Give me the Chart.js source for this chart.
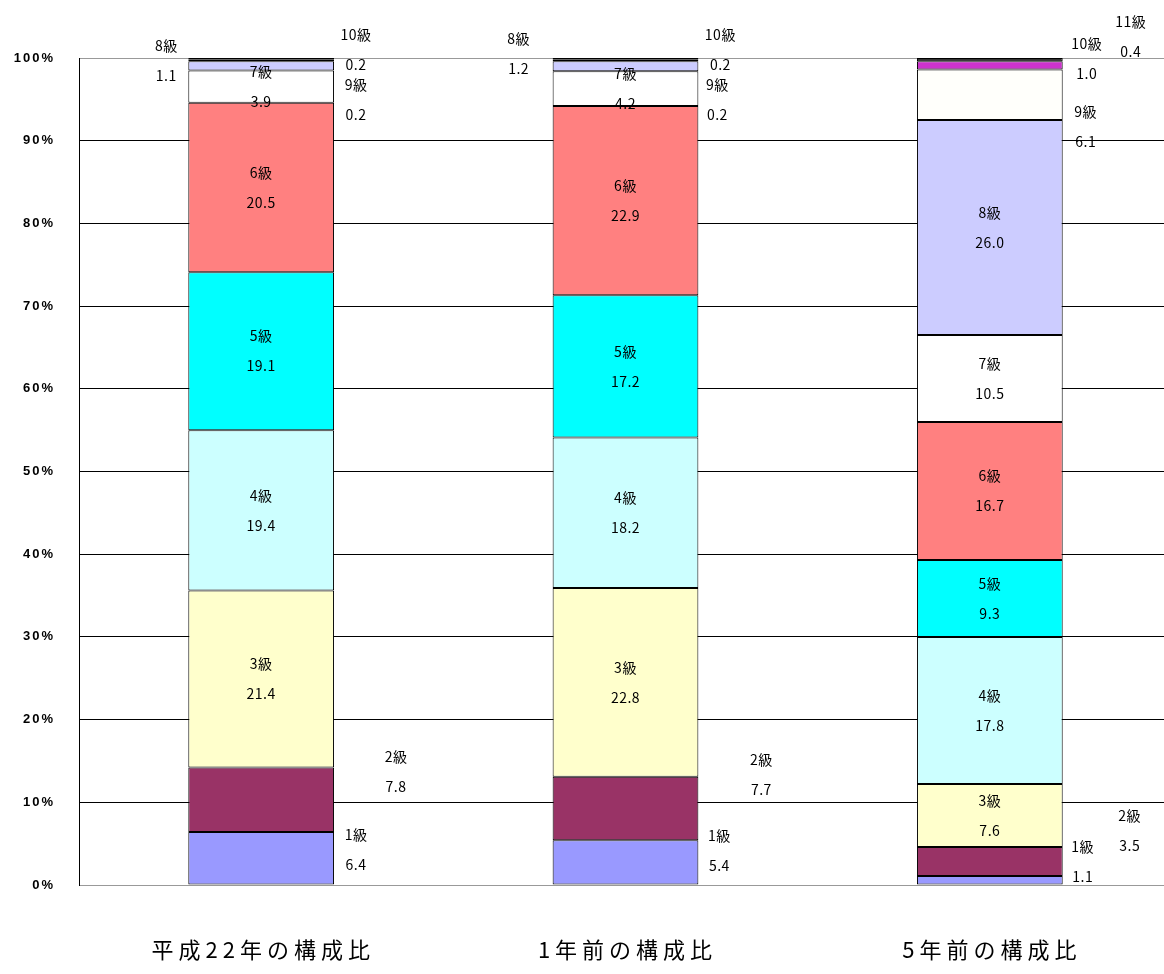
<!DOCTYPE html>
<html lang="ja">
<head>
  <meta charset="UTF-8">
  <title>等級別構成比</title>
  <script src="https://cdn.jsdelivr.net/npm/chart.js"></script>
  <style>
    html, body { margin: 0; padding: 0; background: #fff; overflow: hidden; }
    .wrap { width: 1172px; height: 974px; position: relative; }
  </style>
</head>
<body>
  <div class="wrap">
    <canvas id="kouseiChart"></canvas>
  </div>

  <script>
    var categories = ["平成22年の構成比", "1年前の構成比", "5年前の構成比"];
    var grades = ["1級", "2級", "3級", "4級", "5級", "6級", "7級", "8級", "9級", "10級", "11級"];

    // 各年の構成比（%）
    var h22 = [6.4, 7.8, 21.4, 19.4, 19.1, 20.5, 3.9, 1.1, 0.2, 0.2, null];
    var oneYearAgo = [5.4, 7.7, 22.8, 18.2, 17.2, 22.9, 4.2, 1.2, 0.2, 0.2, null];
    var fiveYearsAgo = [1.1, 3.5, 7.6, 17.8, 9.3, 16.7, 10.5, 26.0, 6.1, 1.0, 0.4];

    var colors = ["#9999FF", "#993366", "#FFFFCC", "#CCFFFF", "#00FFFF", "#FF8080",
                  "#FFFFFF", "#CCCCFF", "#FFFFFB", "#CC33CC", "#333333"];

    // 棒の外に出すラベル: [系列, 棒, 左右, 棒の端からのx, 区間中央からのy]
    var outsideLabels = [
      [0, 0, "right", 22, -9], [1, 0, "right", 62, -28], [7, 0, "left", -22, -5],
      [8, 0, "right", 22, 39], [9, 0, "right", 22, -9],
      [0, 1, "right", 21, -12], [1, 1, "right", 63, -34], [7, 1, "left", -34, -13],
      [8, 1, "right", 19, 39], [9, 1, "right", 22, -9],
      [0, 2, "right", 20, -19], [1, 2, "right", 67, -31], [8, 2, "right", 23, 32],
      [9, 2, "right", 24, -7], [10, 2, "right", 68, -23]
    ];

    function findOutside(ds, idx) {
      for (var k = 0; k < outsideLabels.length; k++) {
        if (outsideLabels[k][0] === ds && outsideLabels[k][1] === idx) return outsideLabels[k];
      }
      return null;
    }

    var labelPlugin = {
      id: "segmentLabels",
      beforeDraw: function (chart) {
        chart.ctx.letterSpacing = "2px";
      },
      afterDatasetsDraw: function (chart) {
        var ctx = chart.ctx;
        ctx.save();
        ctx.letterSpacing = "0.5px";
        ctx.font = "14px 'Noto Sans CJK JP'";
        ctx.fillStyle = "#000";
        ctx.textAlign = "center";
        ctx.textBaseline = "middle";
        chart.data.datasets.forEach(function (dataset, i) {
          var meta = chart.getDatasetMeta(i);
          meta.data.forEach(function (bar, j) {
            var v = dataset.data[j];
            if (v === null || v === undefined) return;
            var half = bar.width / 2;
            var x = bar.x;
            var y = (bar.y + bar.base) / 2;
            var out = findOutside(i, j);
            if (out) {
              x = out[2] === "right" ? bar.x + half + out[3] : bar.x - half + out[3];
              y = y + out[4];
            }
            ctx.fillText(dataset.label, x, y - 15);
            ctx.fillText(v.toFixed(1), x, y + 15);
          });
        });
        ctx.restore();
      },
      afterDraw: function (chart) {
        var ctx = chart.ctx;
        var xs = chart.scales.x;
        ctx.save();
        ctx.letterSpacing = "5px";
        ctx.font = "22px 'Noto Sans CJK JP'";
        ctx.fillStyle = "#000";
        ctx.textAlign = "center";
        ctx.textBaseline = "middle";
        chart.data.labels.forEach(function (label, i) {
          ctx.fillText(label, xs.getPixelForValue(i) + 2, 950);
        });
        ctx.restore();
        ctx.letterSpacing = "0px";
      }
    };

    var ctx = document.getElementById("kouseiChart").getContext("2d");

    new Chart(ctx, {
      type: "bar",
      data: {
        labels: categories,
        datasets: grades.map(function (g, i) {
          return {
            label: g,
            data: [h22[i], oneYearAgo[i], fiveYearsAgo[i]],
            backgroundColor: colors[i],
            borderColor: "#000",
            borderWidth: 1,
            borderSkipped: false,
            barPercentage: 0.4,
            categoryPercentage: 1
          };
        })
      },
      options: {
        responsive: true,
        maintainAspectRatio: false,
        animation: false,
        layout: { padding: { top: 58, bottom: 81, left: 0, right: 0 } },
        plugins: {
          legend: { display: false },
          tooltip: { enabled: false }
        },
        scales: {
          x: {
            stacked: true,
            grid: { display: false },
            border: { display: false },
            ticks: { display: false }
          },
          y: {
            stacked: true,
            min: 0,
            max: 100,
            afterFit: function (scale) { scale.width = 79; },
            ticks: {
              stepSize: 10,
              padding: 24,
              color: "#000",
              font: { family: "'Liberation Sans'", size: 13, weight: "bold" },
              callback: function (v) { return v + "%"; }
            },
            grid: {
              drawTicks: false,
              lineWidth: 1,
              color: function (c) {
                return (c.tick.value === 0 || c.tick.value === 100) ? "#999" : "#000";
              }
            },
            border: { display: true, color: "#000", width: 1 }
          }
        }
      },
      plugins: [labelPlugin]
    });
  </script>
</body>
</html>
